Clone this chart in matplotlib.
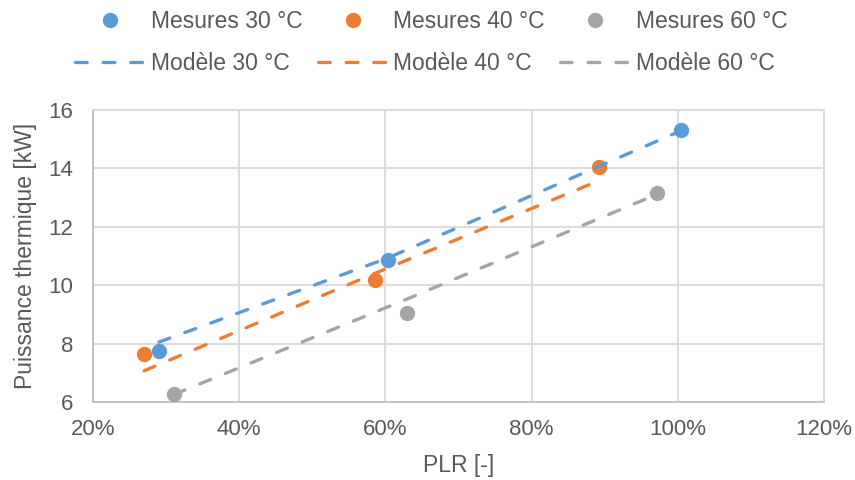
import matplotlib
matplotlib.use("Agg")
import matplotlib.pyplot as plt
from matplotlib.ticker import PercentFormatter

plt.rcParams["font.family"] = ["Liberation Sans", "DejaVu Sans"]

# measured points (PLR as fraction, thermal power in kW)
plr_30 = [0.290, 0.603, 1.005]
mes_30 = [7.74, 10.85, 15.32]
plr_40 = [0.270, 0.586, 0.892]
mes_40 = [7.63, 10.18, 14.06]
plr_60 = [0.311, 0.629, 0.972]
mes_60 = [6.27, 9.04, 13.15]

# model values at the same PLR
mod_30 = [8.05, 10.93, 15.30]
mod_40 = [7.07, 10.41, 13.58]
mod_60 = [6.26, 9.52, 13.12]

x_ticks = [0.2, 0.4, 0.6, 0.8, 1.0, 1.2]
y_ticks = [6, 8, 10, 12, 14, 16]

BLUE = "#5B9BD5"
ORANGE = "#ED7D31"
GRAY = "#A5A5A5"
TEXT = "#595959"
GRID = "#D9D9D9"

fig = plt.figure(figsize=(8.55, 4.8), dpi=100)
ax = fig.add_axes([0.1088, 0.1625, 0.855, 0.6083])

series = [
    ("30", plr_30, mes_30, mod_30, BLUE),
    ("40", plr_40, mes_40, mod_40, ORANGE),
    ("60", plr_60, mes_60, mod_60, GRAY),
]

handles = []
for temp, x, mes, mod, color in series:
    pts, = ax.plot(x, mes, "o", color=color, markersize=10, linestyle="none",
                   label=f"Mesures {temp} °C", zorder=3)
    line, = ax.plot(x, mod, color=color, linewidth=2.4, dashes=(3.5, 4.8),
                    dash_capstyle="round", label=f"Modèle {temp} °C", zorder=4)
    handles += [pts, line]

ax.set_xlim(0.2, 1.2)
ax.set_ylim(6, 16)
ax.set_xticks(x_ticks)
ax.set_yticks(y_ticks)
ax.xaxis.set_major_formatter(PercentFormatter(1.0, decimals=0))
ax.tick_params(length=0, labelsize=16, labelcolor=TEXT)
ax.tick_params(axis="x", pad=12)
ax.tick_params(axis="y", pad=14)
ax.grid(color=GRID, linewidth=1.3)
ax.set_axisbelow(True)
for side, spine in ax.spines.items():
    spine.set_color("#BFBFBF" if side in ("left", "bottom") else GRID)
    spine.set_linewidth(1.3)

ax.set_xlabel("PLR [-]", fontsize=16.5, color=TEXT)
ax.set_ylabel("Puissance thermique [kW]", fontsize=16.5, color=TEXT)
ax.xaxis.set_label_coords(0.5, -0.178)
ax.yaxis.set_label_coords(-0.076, 0.5)

fig.legend(handles=handles, ncol=3, loc="center", bbox_to_anchor=(0.5045, 0.911),
           frameon=False, fontsize=16.5, labelcolor=TEXT, handlelength=3.05,
           handletextpad=0.25, columnspacing=0.67, labelspacing=0.85, borderpad=0)

fig.savefig("out.png", dpi=100)
